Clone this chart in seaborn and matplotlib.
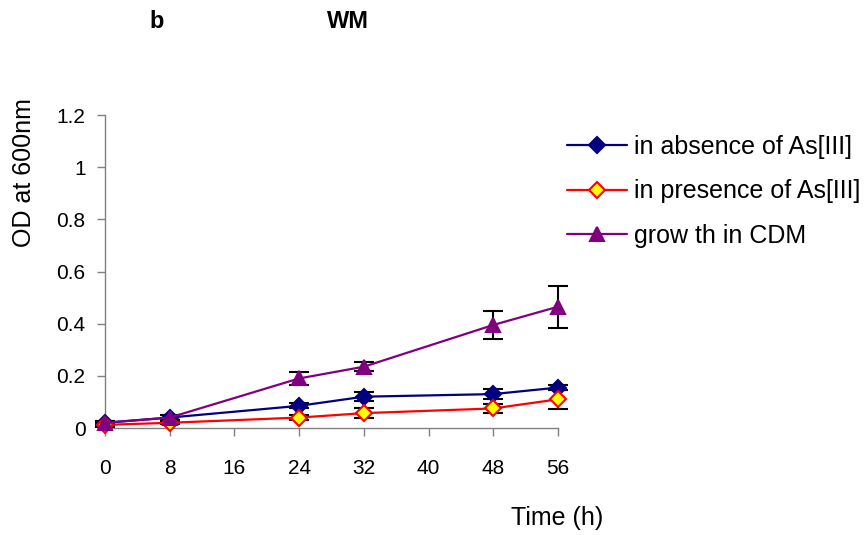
import numpy as np
import pandas as pd
import matplotlib
matplotlib.use("Agg")
import matplotlib.pyplot as plt
import seaborn as sns

# Time points (h) and OD600 readings
time_h = [0, 8, 24, 32, 48, 56]
od_absence = [0.02, 0.04, 0.085, 0.12, 0.13, 0.155]
err_absence = [0.008, 0.008, 0.01, 0.017, 0.02, 0.01]
od_presence = [0.012, 0.02, 0.04, 0.057, 0.075, 0.11]
err_presence = [0.008, 0.006, 0.008, 0.018, 0.018, 0.036]
od_cdm = [0.02, 0.04, 0.19, 0.235, 0.395, 0.465]
err_cdm = [0.008, 0.008, 0.025, 0.018, 0.053, 0.08]

series_names = ["in absence of As[III]", "in presence of As[III]", "grow th in CDM"]
x_ticks = [0, 8, 16, 24, 32, 40, 48, 56]
y_ticks = [0, 0.2, 0.4, 0.6, 0.8, 1.0, 1.2]
y_tick_labels = ["0", "0.2", "0.4", "0.6", "0.8", "1", "1.2"]

sns.set_theme(style="white")
plt.rcParams["font.family"] = ["Liberation Sans", "DejaVu Sans"]
plt.rcParams["text.color"] = "black"
plt.rcParams["xtick.color"] = "#808080"
plt.rcParams["ytick.color"] = "#808080"
plt.rcParams["xtick.labelcolor"] = "black"
plt.rcParams["ytick.labelcolor"] = "black"

df = pd.DataFrame({
    "time": time_h * 3,
    "od": od_absence + od_presence + od_cdm,
    "err": err_absence + err_presence + err_cdm,
    "series": [series_names[0]] * 6 + [series_names[1]] * 6 + [series_names[2]] * 6,
})

fig = plt.figure(figsize=(8.64, 5.35), dpi=100)
ax = fig.add_axes([0.1215, 0.2, 0.5243, 0.585])

styles = {
    series_names[0]: dict(color="#000080", marker="D", mfc="#000080", mec="#000080", ms=8),
    series_names[1]: dict(color="#ff0000", marker="D", mfc="#ffff00", mec="#ff0000", ms=8),
    series_names[2]: dict(color="#800080", marker="^", mfc="#800080", mec="#800080", ms=10),
}

# error bars first, then the lines with markers on top
for name in series_names:
    sub = df[df["series"] == name]
    ax.errorbar(sub["time"], sub["od"], yerr=sub["err"], fmt="none",
                ecolor="black", elinewidth=1.5, capsize=7.5, capthick=1.5,
                zorder=2, clip_on=False)

for name in series_names:
    sub = df[df["series"] == name]
    st = styles[name]
    sns.lineplot(data=sub, x="time", y="od", ax=ax, color=st["color"],
                 linewidth=1.6, marker=st["marker"], markersize=st["ms"],
                 markerfacecolor=st["mfc"], markeredgecolor=st["mec"],
                 markeredgewidth=1.5, label=name, zorder=3, clip_on=False,
                 errorbar=None)

ax.set_xlim(0, 56)
ax.set_ylim(0, 1.2)
ax.set_xticks(x_ticks)
ax.set_xticklabels([str(t) for t in x_ticks], fontsize=15)
ax.set_yticks(y_ticks)
ax.set_yticklabels(y_tick_labels, fontsize=15)
ax.tick_params(axis="x", direction="out", length=6, width=1, bottom=True, pad=16)
ax.tick_params(axis="y", direction="out", length=6, width=1, left=True, pad=8)
for side in ["top", "right"]:
    ax.spines[side].set_visible(False)
for side in ["left", "bottom"]:
    ax.spines[side].set_color("#808080")
    ax.spines[side].set_linewidth(1)

ax.set_xlabel("")
ax.set_ylabel("")
fig.text(24 / 864, 1 - 173 / 535, "OD at 600nm", fontsize=18, rotation=90,
         ha="center", va="center")
fig.text(557 / 864, 1 - 518 / 535, "Time (h)", fontsize=18, ha="center", va="center")

fig.text(157 / 864, 1 - 22 / 535, "b", fontsize=17, fontweight="bold", ha="center", va="center")
fig.text(348 / 864, 1 - 22 / 535, "WM", fontsize=17, fontweight="bold", ha="center", va="center")

ax.legend(loc="upper left", bbox_to_anchor=(567 / 864, 1 - 135 / 535),
          bbox_transform=fig.transFigure, frameon=False, fontsize=18,
          handlelength=2.4, labelspacing=0.82, handletextpad=0.3,
          borderpad=0, borderaxespad=0)

fig.savefig("out.png", dpi=100, facecolor="white")
